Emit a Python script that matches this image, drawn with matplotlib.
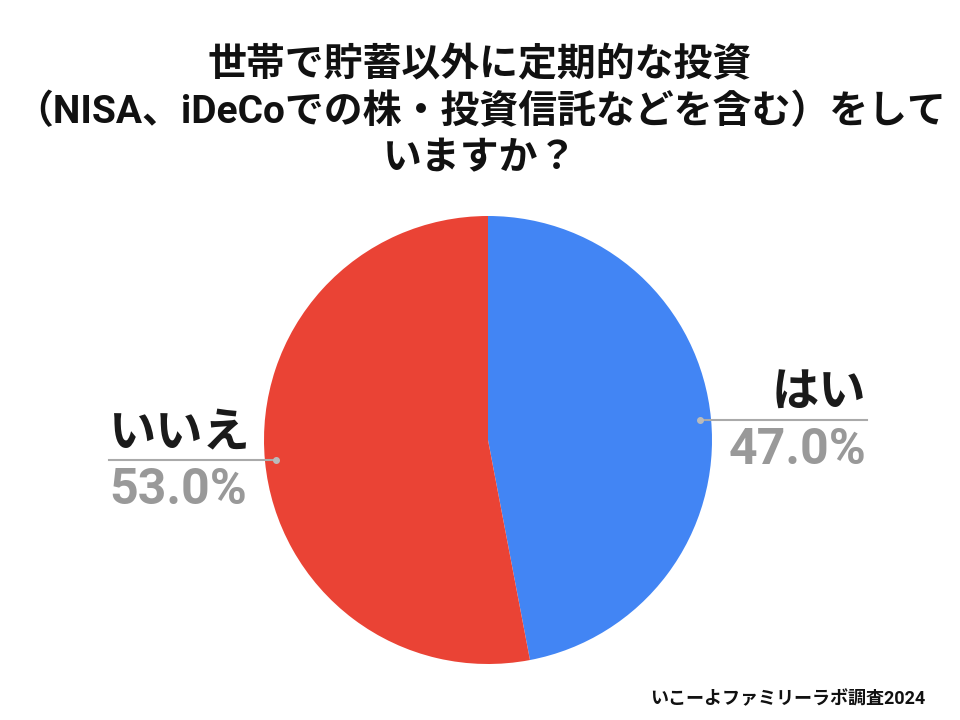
import matplotlib
matplotlib.use('Agg')
import matplotlib.pyplot as plt
import numpy as np

plt.rcParams['font.family'] = ['Roboto', 'Noto Sans CJK JP', 'DejaVu Sans']

title = '世帯で貯蓄以外に定期的な投資\n（NISA、iDeCoでの株・投資信託などを含む）をして\nいますか？'
labels = ['はい', 'いいえ']
values = [47.0, 53.0]
colors = ['#4285F4', '#EA4335']
source = 'いこーよファミリーラボ調査2024'

fig = plt.figure(figsize=(9.6, 7.2), dpi=100)
ax = fig.add_axes([264 / 960, 56 / 720, 448 / 960, 448 / 720])

wedges, _ = ax.pie(values, colors=colors, startangle=90, counterclock=False,
                   radius=1.0, wedgeprops=dict(linewidth=0))
ax.set_xlim(-1, 1)
ax.set_ylim(-1, 1)
ax.set_aspect('equal')
ax.axis('off')

# ラベルと引き出し線
for w, lab, v in zip(wedges, labels, values):
    ang = np.deg2rad((w.theta1 + w.theta2) / 2)
    x0, y0 = 0.95 * np.cos(ang), 0.95 * np.sin(ang)
    side = 1 if x0 > 0 else -1
    x1 = 1.69 * side
    ax.plot([x0, x1], [y0, y0], color='#aaaaaa', lw=1.5, clip_on=False)
    ax.plot([x0], [y0], 'o', color='#bbbbbb', ms=4, clip_on=False)
    ha = 'right' if side > 0 else 'left'
    ax.text(x1, y0 + 0.02, lab, ha=ha, va='bottom', fontsize=34,
            fontweight='bold', color='#1a1a1a', clip_on=False)
    ax.text(x1, y0 - 0.03, f'{v:.1f}%', ha=ha, va='top', fontsize=36,
            fontweight='bold', color='#999999', clip_on=False)

fig.text(0.5, 0.935, title, ha='center', va='top', fontsize=28,
         fontweight='bold', color='#111111', linespacing=1.33)
fig.text(0.964, 0.016, source, ha='right', va='bottom', fontsize=13,
         fontweight='bold', color='#111111')

fig.savefig('out.png', dpi=100, facecolor='white')
